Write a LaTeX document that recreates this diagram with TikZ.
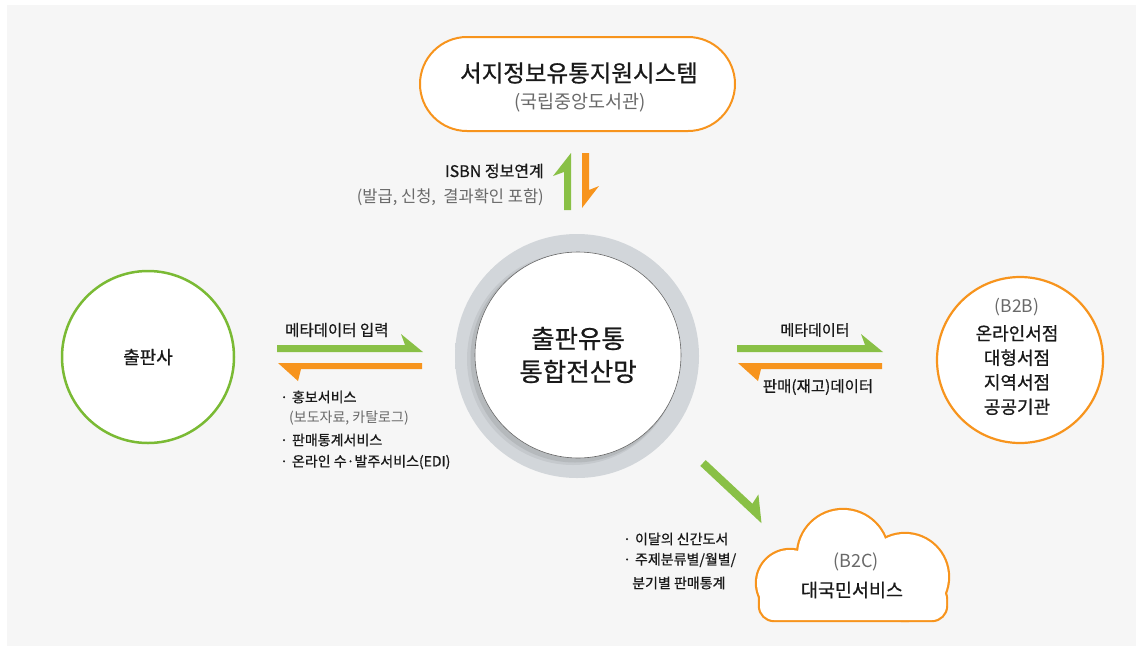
\documentclass[tikz,border=0pt]{standalone}
\usepackage{fontspec}
\setmainfont{Noto Sans CJK KR}
\newfontfamily\medfont{Noto Sans CJK KR}[FakeBold=0.7]
\definecolor{bg}{RGB}{246,246,246}
\definecolor{org}{RGB}{247,148,29}
\definecolor{grn}{RGB}{137,192,70}
\definecolor{pubgrn}{RGB}{122,186,52}
\definecolor{txtgray}{RGB}{105,105,105}
\definecolor{txt}{RGB}{25,25,25}
\definecolor{haloA}{RGB}{210,214,218}
\definecolor{haloB}{RGB}{232,234,236}
\pgfdeclareradialshading{halo}{\pgfpointorigin}{color(0bp)=(haloA); color(41bp)=(haloA); color(50bp)=(haloB)}
\newcommand\fs[1]{\fontsize{#1}{1.3\dimexpr #1pt\relax}\selectfont}
\newcommand\bul{·\hspace{4pt}}
\begin{document}
\begin{tikzpicture}[x=1pt,y=-1pt,
  lbl/.style={inner sep=0pt, text=txt},
  sub/.style={inner sep=0pt, text=txtgray},
]
\useasboundingbox (0,0) rectangle (1136,646);
\fill[white] (0,0) rectangle (1136,646);
\fill[bg] (7,5) rectangle (1136,646);

% ---- top pill ----
\node[rounded corners=47pt, draw=org, line width=2pt, fill=white,
      minimum width=315pt, minimum height=94pt, inner sep=0pt] (nl) at (577.5,84) {};
\node[lbl, font=\medfont\fs{23.5}] (nltitle) at (579,73) {서지정보유통지원시스템};
\node[sub, font=\fs{18.5}] (nlsub) at (580,103) {(국립중앙도서관)};

% ---- ISBN arrows ----
\fill[grn] (564,210) -- (564,172) -- (553,176) -- (571,153) -- (571,210) -- cycle;
\fill[org] (582,153) -- (589,153) -- (589,190) -- (599,186) -- (582,208) -- cycle;
\node[lbl, anchor=east, font=\medfont\fs{16}] (isbn) at (544,171) {ISBN 정보연계};
\node[sub, anchor=east, font=\fs{16.5}] (isbnsub) at (544,197) {(발급, 신청,\ \ 결과확인 포함)};

% ---- central hub ----
\shade[shading=halo] (577,356) circle[radius=122pt];
\fill[black, opacity=0.06] (573,359) circle[radius=106pt];
\fill[black, opacity=0.08] (575,358) circle[radius=104.5pt];
\node[circle, draw=black!60, line width=0.6pt, fill=white, minimum size=206pt,
      inner sep=0pt, align=center, text=txt, font=\medfont\fontsize{25.5}{33}\selectfont] (hub) at (578,355)
      {출판유통\\통합전산망};

% ---- publisher ----
\node[circle, draw=pubgrn, line width=2.5pt, fill=white, minimum size=172pt,
      inner sep=0pt, text=txt, font=\medfont\fs{18}] (pub) at (148,357) {출판사};

% ---- left arrows ----
\fill[grn] (277,345) -- (405,345) -- (401,334) -- (423,352) -- (277,352) -- cycle;
\fill[org] (422,363) -- (278,363) -- (298,381) -- (301,369) -- (422,369) -- cycle;
\node[lbl, anchor=west, font=\medfont\fs{15.5}] (meta1) at (285,330) {메타데이터 입력};
\node[lbl, anchor=west, font=\medfont\fs{14}] (l1) at (280,397) {\bul 홍보서비스};
\node[sub, anchor=west, font=\fs{14}] (l2) at (289,418) {(보도자료, 카탈로그)};
\node[lbl, anchor=west, font=\medfont\fs{14}] (l3) at (280,440) {\bul 판매통계서비스};
\node[lbl, anchor=west, font=\medfont\fs{14}] (l4) at (280,462) {\bul 온라인 수·발주서비스(EDI)};

% ---- right arrows ----
\fill[grn] (737,345) -- (865,345) -- (861,334) -- (883,352) -- (737,352) -- cycle;
\fill[org] (882,363) -- (738,363) -- (758,381) -- (761,369) -- (882,369) -- cycle;
\node[lbl, font=\medfont\fs{15}] (meta2) at (815,330) {메타데이터};
\node[lbl, font=\medfont\fs{15.5}] (sales) at (818,387) {판매(재고)데이터};

% ---- B2B ----
\node[circle, draw=org, line width=2.2pt, fill=white, minimum size=166pt,
      inner sep=0pt] (b2b) at (1020,360) {};
\node[sub, font=\fs{17.5}] (b2btag) at (1017,307) {(B2B)};
\node[lbl, align=center, font=\medfont\fontsize{18}{24.5}\selectfont, anchor=north] (b2blist) at (1017,325)
      {온라인서점\\대형서점\\지역서점\\공공기관};

% ---- diagonal arrow ----
\fill[grn] (700.3,465.9) -- (705.7,460.1) -- (752.4,503.7) -- (758.4,494.4) -- (761.5,523.2) -- cycle;
\node[lbl, anchor=west, font=\medfont\fs{14}] (c1) at (623,539) {\bul 이달의 신간도서};
\node[lbl, anchor=west, font=\medfont\fs{14}] (c2) at (623,560) {\bul 주제분류별/월별/};
\node[lbl, anchor=west, font=\medfont\fs{14}] (c3) at (632,583) {분기별 판매통계};

% ---- cloud ----
\begin{scope}
  \draw[org, line width=4.4pt] (843,555) circle[radius=45pt];
  \draw[org, line width=4.4pt] (790,583) circle[radius=33pt];
  \draw[org, line width=4.4pt] (905,577) circle[radius=43pt];
  \draw[org, line width=4.4pt, rounded corners=14pt] (760,585) rectangle (946,620);
  \fill[white] (843,555) circle[radius=45pt];
  \fill[white] (790,583) circle[radius=33pt];
  \fill[white] (905,577) circle[radius=43pt];
  \fill[white, rounded corners=14pt] (760,585) rectangle (946,620);
\end{scope}
\node[sub, font=\fs{18}] (b2ctag) at (856,562) {(B2C)};
\node[lbl, font=\medfont\fs{18.5}] (b2c) at (852,590) {대국민서비스};
\end{tikzpicture}
\end{document}
